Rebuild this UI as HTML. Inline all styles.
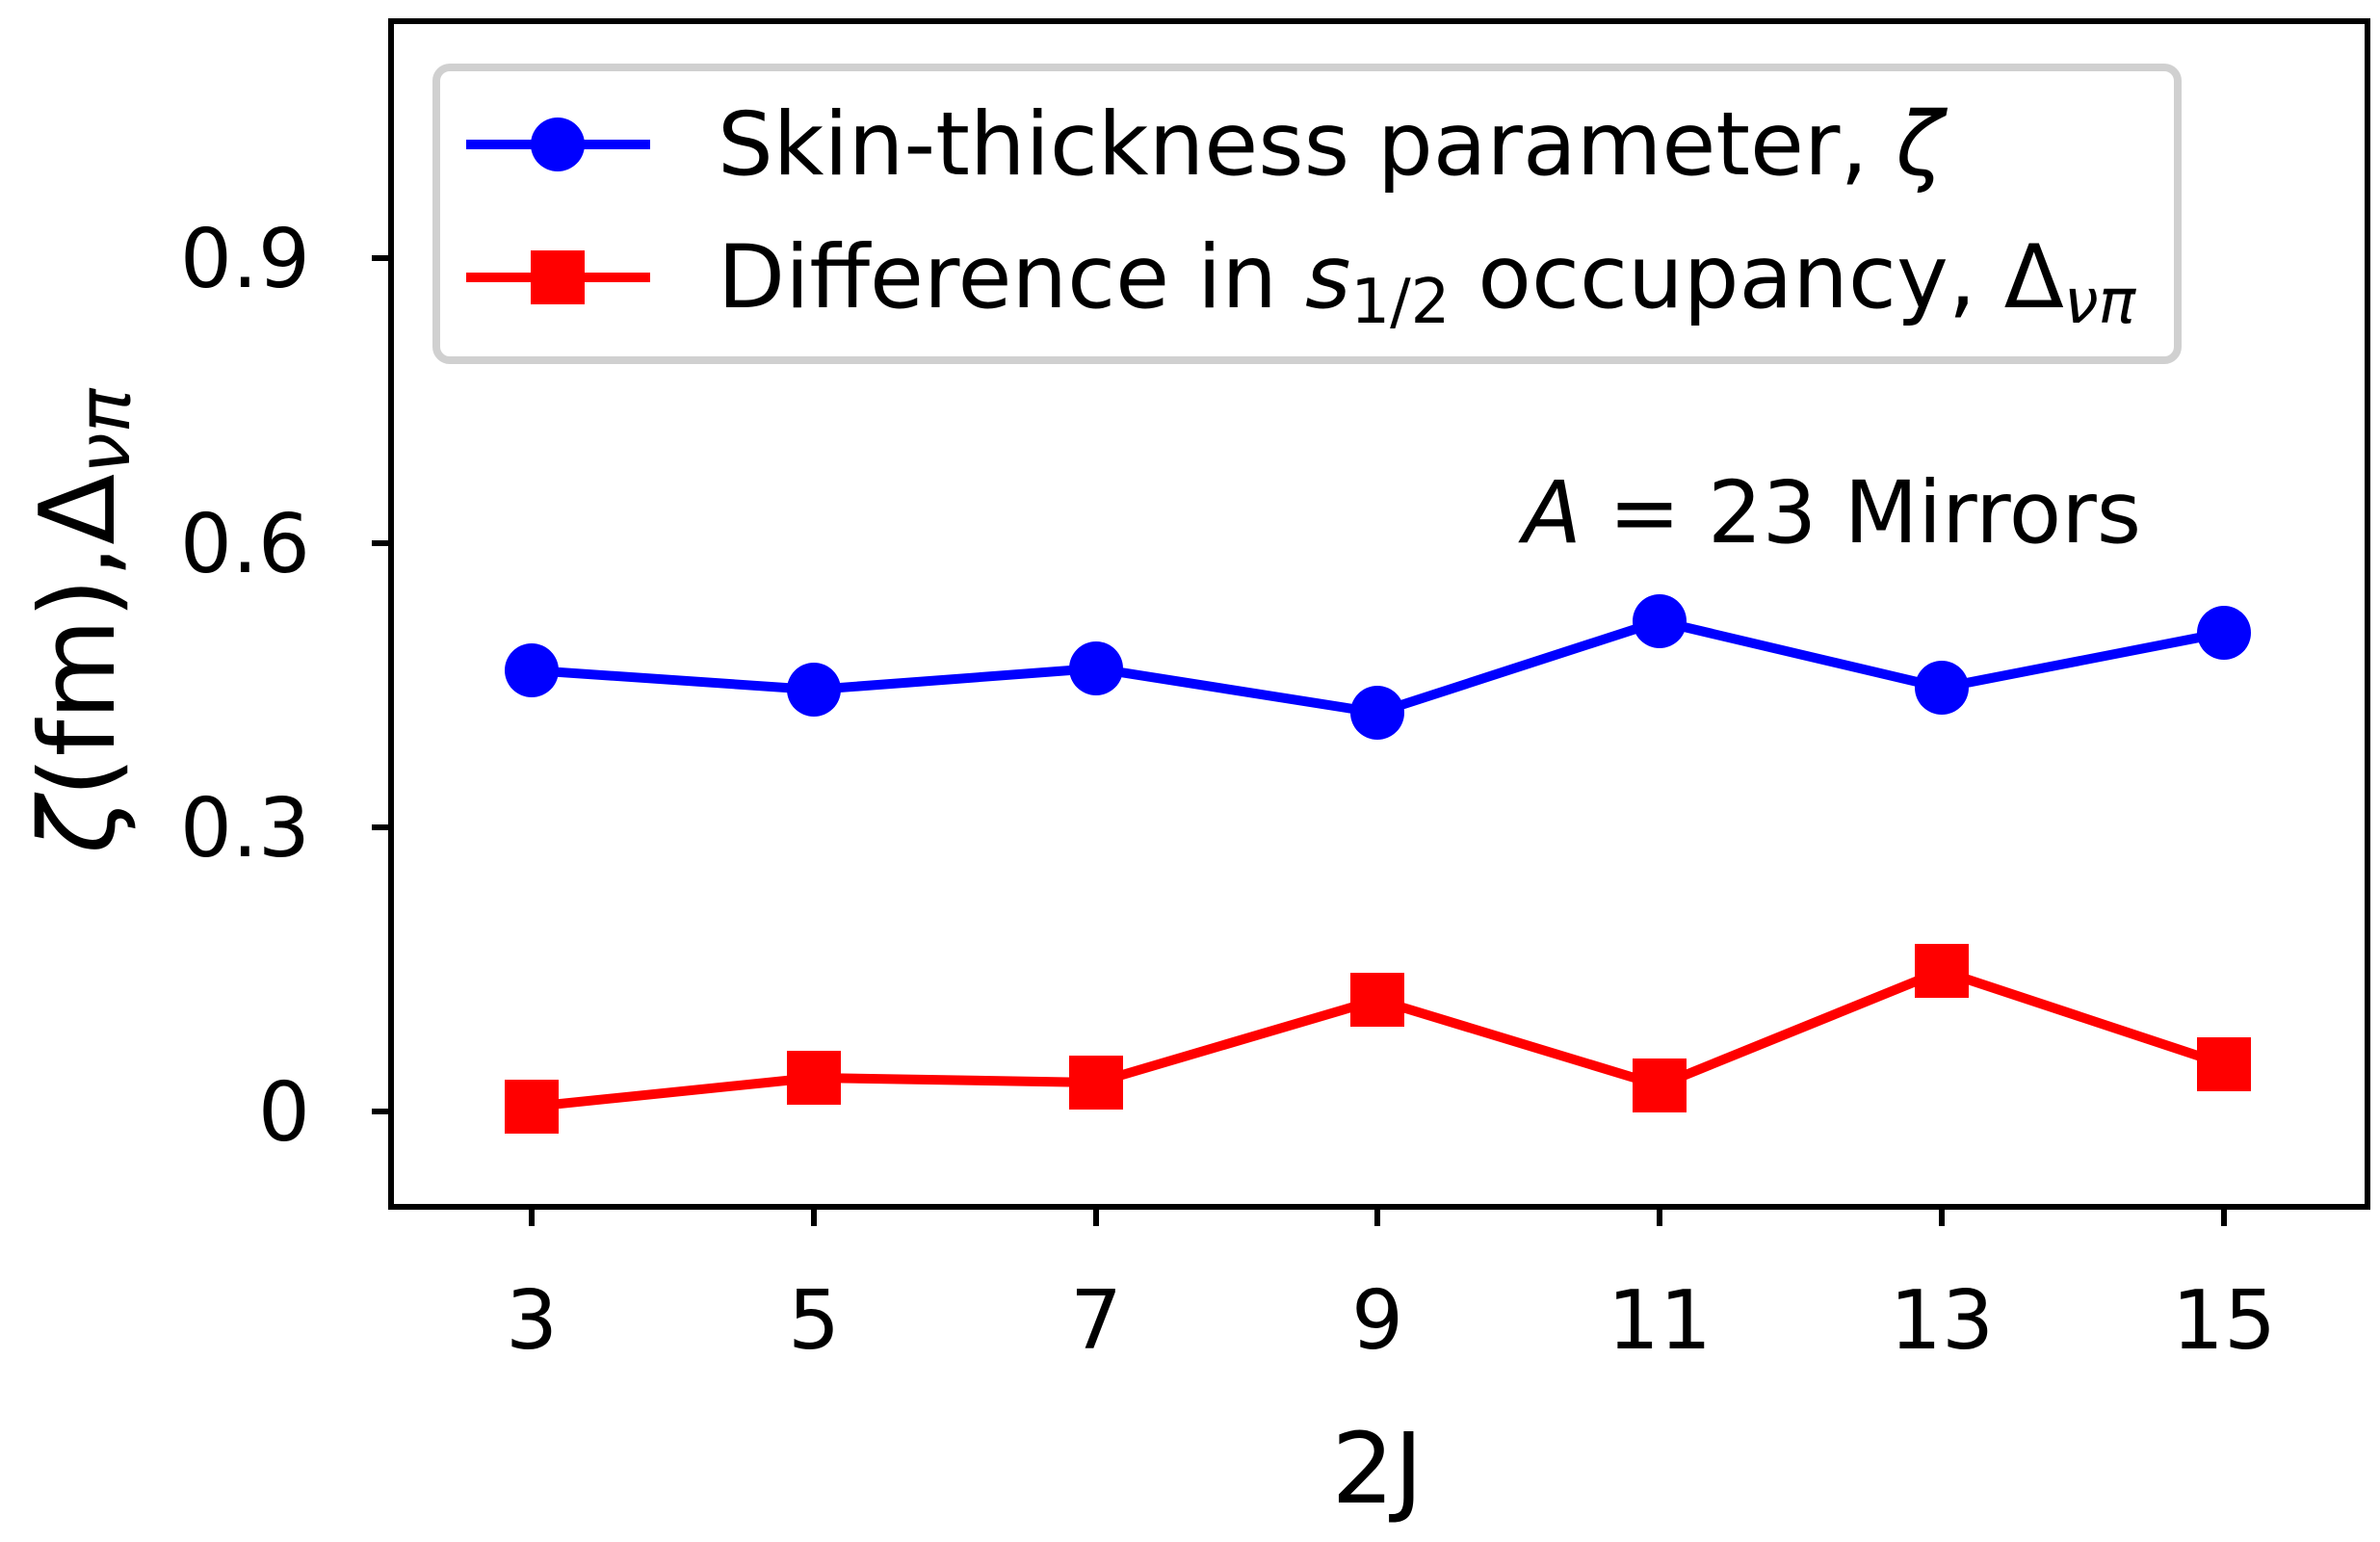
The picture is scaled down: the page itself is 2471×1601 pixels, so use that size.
<!DOCTYPE html>
<html><head><style>html,body{margin:0;padding:0;background:#fff}</style></head>
<body>
<svg width="2471" height="1596" viewBox="0 0 2471 1596" xmlns="http://www.w3.org/2000/svg" font-family="'DejaVu Sans', 'Liberation Sans', sans-serif">
<rect width="2471" height="1596" fill="#fff"/>
<g fill="none" stroke-width="10" stroke-linejoin="round">
<polyline stroke="#0000ff" points="552,696 845,716 1138,694 1430,740 1723,645 2016,714 2309,657"/>
<polyline stroke="#ff0000" points="552,1149 845,1119 1138,1124 1430,1038 1723,1127 2016,1008 2309,1105"/>
</g>
<g fill="#0000ff">
<circle cx="552" cy="696" r="28"/><circle cx="845" cy="716" r="28"/><circle cx="1138" cy="694" r="28"/><circle cx="1430" cy="740" r="28"/><circle cx="1723" cy="645" r="28"/><circle cx="2016" cy="714" r="28"/><circle cx="2309" cy="657" r="28"/>
</g>
<g fill="#ff0000">
<rect x="524" y="1121" width="56" height="56"/><rect x="817" y="1091" width="56" height="56"/><rect x="1110" y="1096" width="56" height="56"/><rect x="1402" y="1010" width="56" height="56"/><rect x="1695" y="1099" width="56" height="56"/><rect x="1988" y="980" width="56" height="56"/><rect x="2281" y="1077" width="56" height="56"/>
</g>
<rect x="406" y="22" width="2052" height="1231" fill="none" stroke="#000" stroke-width="6"/>
<g stroke="#000" stroke-width="6">
<line x1="406" y1="1154" x2="386" y2="1154"/><line x1="406" y1="859" x2="386" y2="859"/><line x1="406" y1="564" x2="386" y2="564"/><line x1="406" y1="268" x2="386" y2="268"/>
<line x1="552" y1="1253" x2="552" y2="1273"/><line x1="845" y1="1253" x2="845" y2="1273"/><line x1="1138" y1="1253" x2="1138" y2="1273"/><line x1="1430" y1="1253" x2="1430" y2="1273"/><line x1="1723" y1="1253" x2="1723" y2="1273"/><line x1="2016" y1="1253" x2="2016" y2="1273"/><line x1="2309" y1="1253" x2="2309" y2="1273"/>
</g>
<g font-size="85" fill="#000" text-anchor="end">
<text x="322" y="1184">0</text><text x="322" y="889">0.3</text><text x="322" y="594">0.6</text><text x="322" y="298">0.9</text>
</g>
<g font-size="85" fill="#000" text-anchor="middle">
<text x="552" y="1400">3</text><text x="845" y="1400">5</text><text x="1138" y="1400">7</text><text x="1430" y="1400">9</text><text x="1723" y="1400">11</text><text x="2016" y="1400">13</text><text x="2309" y="1400">15</text>
</g>
<text x="1430" y="1560" font-size="102" text-anchor="middle">2J</text>
<text transform="translate(118,645) rotate(-90)" font-size="108" text-anchor="middle"><tspan font-style="italic">ζ</tspan>(fm),Δ<tspan font-style="italic" font-size="76" dy="16">νπ</tspan></text>
<text x="1581" y="563" font-size="89"><tspan font-style="italic">A</tspan> = 23 Mirrors</text>
<rect x="453" y="70" width="1808" height="304" rx="14" fill="#fff" fill-opacity="0.8" stroke="#d0d0d0" stroke-width="8"/>
<line x1="484" y1="150" x2="675" y2="150" stroke="#0000ff" stroke-width="10"/>
<circle cx="579" cy="150" r="28" fill="#0000ff"/>
<line x1="484" y1="288" x2="675" y2="288" stroke="#ff0000" stroke-width="10"/>
<rect x="551" y="260" width="56" height="56" fill="#ff0000"/>
<text x="745" y="181" font-size="91">Skin-thickness parameter, <tspan font-style="italic">ζ</tspan></text>
<text x="745" y="319" font-size="91">Difference in <tspan font-style="italic">s</tspan><tspan font-size="64" dy="16">1/2</tspan><tspan dy="-16"> occupancy, Δ</tspan><tspan font-style="italic" font-size="64" dy="16">νπ</tspan></text>
</svg>
</body></html>
